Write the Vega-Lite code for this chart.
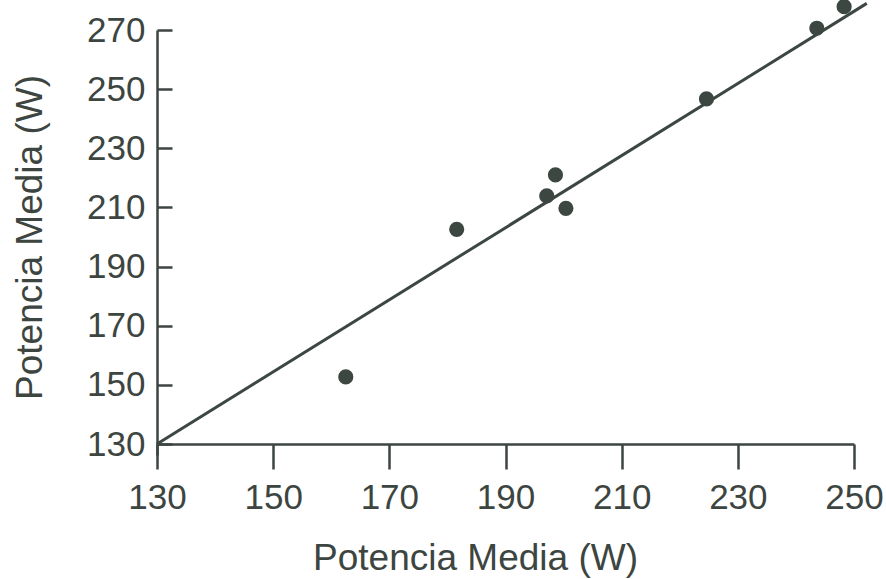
{
  "$schema": "https://vega.github.io/schema/vega-lite/v6.json",
  "width": 697,
  "height": 425,
  "autosize": {"type": "none"},
  "padding": {"left": 157, "top": 30, "right": 32, "bottom": 124},
  "background": "white",
  "config": {
    "view": {"stroke": null},
    "font": "Liberation Sans",
    "axis": {
      "grid": false,
      "domainColor": "#3d4541",
      "domainWidth": 2.5,
      "tickColor": "#3d4541",
      "tickWidth": 2.5,
      "labelColor": "#3d4541",
      "labelFontSize": 35,
      "labelFont": "Liberation Sans",
      "labelFlush": false,
      "labelOverlap": false,
      "titleColor": "#3d4541",
      "titleFont": "Liberation Sans",
      "titleFontSize": 37,
      "titleFontWeight": "normal"
    }
  },
  "layer": [
    {
      "data": {"values": [{"x": 130, "y": 130}, {"x": 252.2, "y": 279.0}]},
      "mark": {"type": "line", "color": "#3d4742", "strokeWidth": 3},
      "encoding": {
        "x": {
          "field": "x", "type": "quantitative",
          "scale": {"domain": [130, 250], "nice": false, "zero": false},
          "axis": {
            "orient": "bottom", "offset": -11,
            "values": [130, 150, 170, 190, 210, 230, 250],
            "tickSize": 25, "labelPadding": 11,
            "title": "Potencia Media (W)",
            "titleX": 318, "titleY": 125, "titleBaseline": "alphabetic", "titleAlign": "center"
          }
        },
        "y": {
          "field": "y", "type": "quantitative",
          "scale": {"domain": [126.3, 270], "nice": false, "zero": false},
          "axis": {
            "orient": "left",
            "values": [130, 150, 170, 190, 210, 230, 250, 270],
            "tickSize": -15, "labelPadding": 27,
            "title": "Potencia Media (W)",
            "titleX": -127, "titleY": 207, "titleBaseline": "middle", "titleAlign": "center", "titleAngle": -90
          }
        }
      }
    },
    {
      "data": {"values": [
        {"x": 162.5, "y": 152.7},
        {"x": 181.6, "y": 202.6},
        {"x": 197.1, "y": 213.9},
        {"x": 198.6, "y": 221.0},
        {"x": 200.4, "y": 209.7},
        {"x": 224.6, "y": 246.7},
        {"x": 243.6, "y": 270.6},
        {"x": 248.3, "y": 277.9}
      ]},
      "mark": {"type": "circle", "size": 230, "opacity": 1, "color": "#3d4742"},
      "encoding": {
        "x": {"field": "x", "type": "quantitative"},
        "y": {"field": "y", "type": "quantitative"}
      }
    }
  ]
}
